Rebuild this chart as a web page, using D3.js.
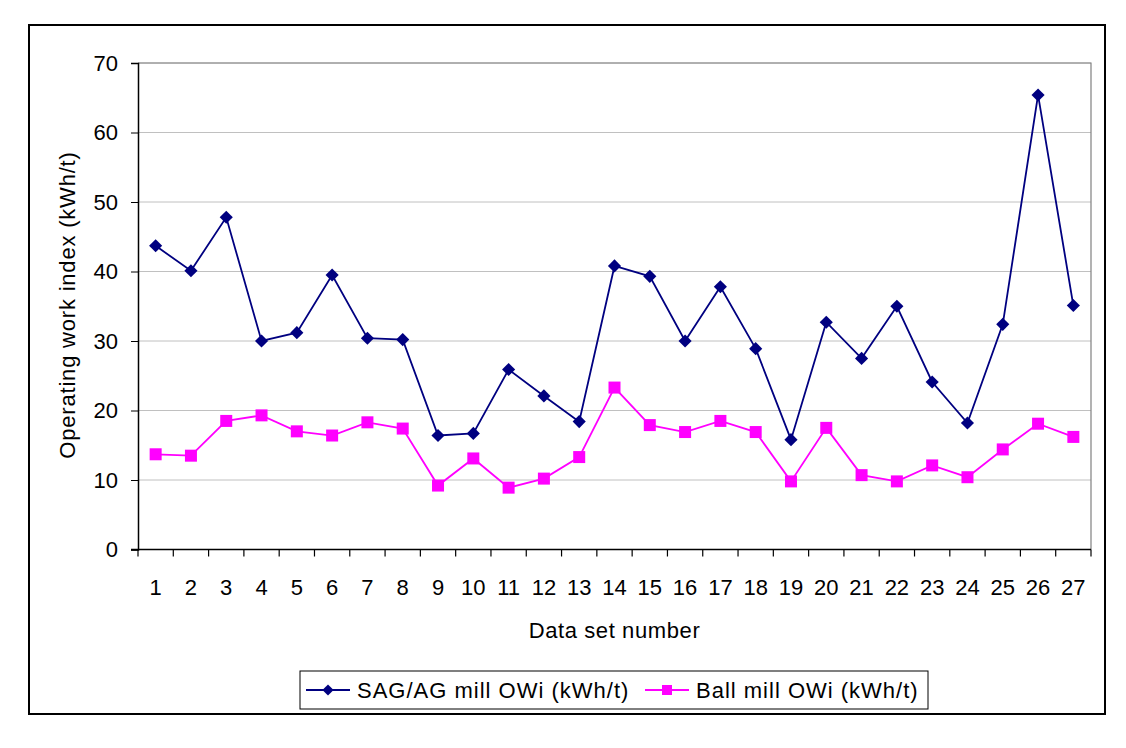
<!DOCTYPE html>
<html>
<head>
<meta charset="utf-8">
<script src="https://cdn.jsdelivr.net/npm/d3@7"></script>
<style>
body { margin: 0; background: #fff; }
text { font-family: "Liberation Sans", Arial, sans-serif; fill: #000; }
</style>
</head>
<body>
<div id="chart"></div>
<script>
// data
var sets = d3.range(1, 28)
var sagOWi = [43.7, 40.1, 47.8, 30.0, 31.2, 39.5, 30.4, 30.2, 16.4, 16.7, 25.9, 22.1, 18.4,
	40.8, 39.3, 30.0, 37.8, 28.9, 15.8, 32.7, 27.5, 35.0, 24.1, 18.2, 32.4, 65.4, 35.1]
var ballOWi = [13.7, 13.5, 18.5, 19.3, 17.0, 16.4, 18.3, 17.4, 9.2, 13.1, 8.9, 10.2, 13.3,
	23.3, 17.9, 16.9, 18.5, 16.9, 9.8, 17.5, 10.7, 9.8, 12.1, 10.4, 14.4, 18.1, 16.2]
var yTicks = [0, 10, 20, 30, 40, 50, 60, 70]
var seriesNames = ["SAG/AG mill OWi (kWh/t)", "Ball mill OWi (kWh/t)"]

var width = 1126, height = 748
var svg = d3.select("#chart").append("svg").attr("width", width).attr("height", height)

// outer chart frame
svg.append("rect").attr("x", 29).attr("y", 25).attr("width", 1076).attr("height", 689)
	.attr("fill", "none").attr("stroke", "#000").attr("stroke-width", 2)

var pLeft = 138, pRight = 1091, pTop = 63, pBottom = 549.5

var x = d3.scaleBand().domain(sets).range([pLeft, pRight])
var y = d3.scaleLinear().domain([0, 70]).range([pBottom, pTop])

// gridlines
svg.append("g").selectAll("line").data(yTicks.slice(1)).enter().append("line")
	.attr("x1", pLeft).attr("x2", pRight)
	.attr("y1", function(d){return y(d)}).attr("y2", function(d){return y(d)})
	.attr("stroke", "#c0c0c0").attr("stroke-width", 1)

// plot area border (top/right)
svg.append("path").attr("d", "M" + pLeft + "," + pTop + "H" + pRight + "V" + pBottom)
	.attr("fill", "none").attr("stroke", "#808080").attr("stroke-width", 1.2)

// y axis
var yAxis = svg.append("g").attr("transform", "translate(" + pLeft + ",0)")
	.call(d3.axisLeft(y).tickValues(yTicks).tickSize(7).tickPadding(13))
yAxis.select(".domain").attr("stroke", "#000").attr("stroke-width", 1.5)
yAxis.selectAll("text").style("font-size", "22px")
	.style("font-family", "'Liberation Sans', Arial, sans-serif")

// x axis: ticks at category boundaries, labels centred
var xAxis = svg.append("g").attr("transform", "translate(0," + pBottom + ")")
xAxis.append("line").attr("x1", pLeft - 7).attr("x2", pRight).attr("stroke", "#000").attr("stroke-width", 1.5)
var bounds = sets.map(function(d){return x(d)}).concat([pRight])
xAxis.selectAll("line.tick").data(bounds).enter().append("line").attr("class", "tick")
	.attr("x1", function(d){return d}).attr("x2", function(d){return d})
	.attr("y1", 0).attr("y2", 7).attr("stroke", "#000").attr("stroke-width", 1.2)
xAxis.selectAll("text").data(sets).enter().append("text")
	.attr("x", function(d){return x(d) + x.bandwidth() / 2})
	.attr("y", 45)
	.attr("text-anchor", "middle")
	.style("font-size", "22px")
	.text(function(d){return d})

// axis titles
svg.append("text").attr("x", (pLeft + pRight) / 2).attr("y", 638)
	.attr("text-anchor", "middle").style("font-size", "22px").style("letter-spacing", "0.6px")
	.text("Data set number")
svg.append("text").attr("transform", "translate(75,305) rotate(-90)")
	.attr("text-anchor", "middle").style("font-size", "22px").style("letter-spacing", "0.8px")
	.text("Operating work index (kWh/t)")

var cx = function(d, i){return x(sets[i]) + x.bandwidth() / 2}
var line = d3.line().x(cx).y(function(d){return y(d)})

// SAG/AG series
svg.append("path").datum(sagOWi).attr("d", line)
	.attr("fill", "none").attr("stroke", "#000080").attr("stroke-width", 1.8)
svg.append("g").selectAll("path").data(sagOWi).enter().append("path")
	.attr("d", d3.symbol().type(d3.symbolDiamond2).size(110))
	.attr("transform", function(d, i){return "translate(" + cx(d, i) + "," + y(d) + ")"})
	.attr("fill", "#000080")

// Ball mill series
svg.append("path").datum(ballOWi).attr("d", line)
	.attr("fill", "none").attr("stroke", "#ff00ff").attr("stroke-width", 1.8)
svg.append("g").selectAll("rect").data(ballOWi).enter().append("rect")
	.attr("x", function(d, i){return cx(d, i) - 6}).attr("y", function(d){return y(d) - 6})
	.attr("width", 12).attr("height", 12)
	.attr("fill", "#ff00ff")

// legend
var legend = svg.append("g")
legend.append("rect").attr("x", 300).attr("y", 671).attr("width", 628).attr("height", 38)
	.attr("fill", "#fff").attr("stroke", "#000").attr("stroke-width", 1)
var lx = [306, 645]
var colors = ["#000080", "#ff00ff"]
seriesNames.forEach(function(name, i) {
	legend.append("line").attr("x1", lx[i]).attr("x2", lx[i] + 44).attr("y1", 690).attr("y2", 690)
		.attr("stroke", colors[i]).attr("stroke-width", 1.8)
	if (i == 0) {
		legend.append("path").attr("d", d3.symbol().type(d3.symbolDiamond2).size(80))
			.attr("transform", "translate(" + (lx[i] + 22) + ",690)").attr("fill", colors[i])
	} else {
		legend.append("rect").attr("x", lx[i] + 17).attr("y", 685).attr("width", 10).attr("height", 10)
			.attr("fill", colors[i])
	}
	legend.append("text").attr("x", lx[i] + 51).attr("y", 698).style("font-size", "22px")
		.style("letter-spacing", "1px").text(name)
})
</script>
</body>
</html>
